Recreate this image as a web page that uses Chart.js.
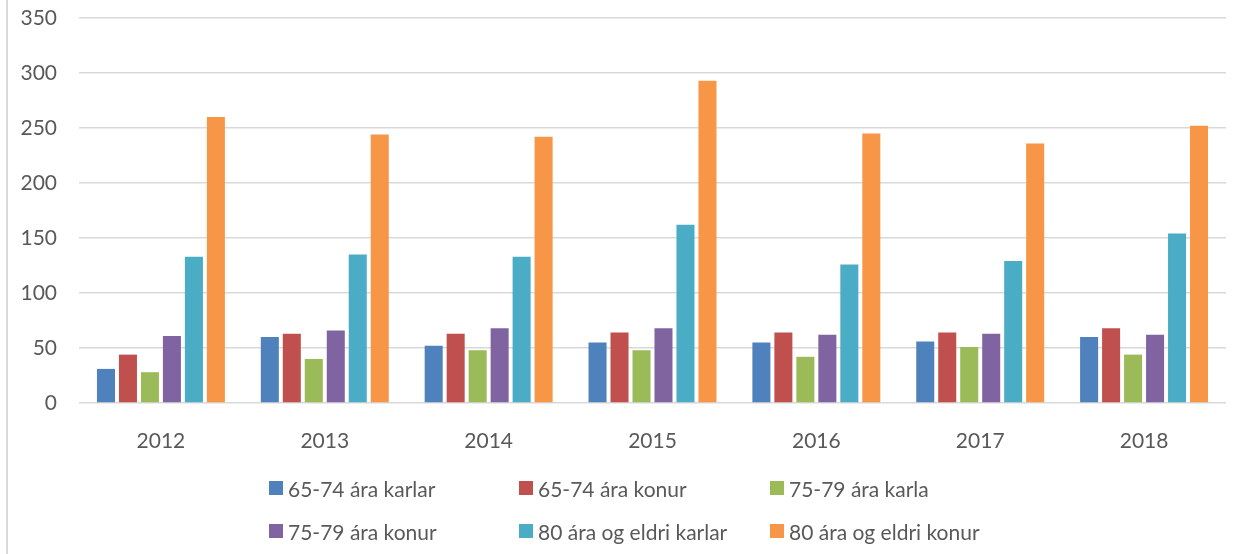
<!DOCTYPE html>
<html lang="is">
<head>
<meta charset="utf-8">
<title>Fjöldi eftir aldri og kyni 2012–2018</title>
<script src="https://cdn.jsdelivr.net/npm/chart.js@4.4.1/dist/chart.umd.min.js"></script>
<style>
  html, body { margin: 0; padding: 0; background: #fff; }
  .wrap { position: relative; width: 1239px; height: 554px; overflow: hidden; }
  .wrap canvas { position: absolute; left: 0; top: 0; }
  .frame-left { position: absolute; left: 6px; top: 0; width: 2px; height: 554px; background: #d9d9d9; }
  .legend { position: absolute; left: 0; top: 0; width: 1239px; height: 554px; pointer-events: none;
            font-family: Lato, 'Open Sans', sans-serif; font-size: 21px; color: #595959; }
  .legend-item { position: absolute; display: flex; align-items: center; white-space: nowrap; }
  .legend-box { width: 14px; height: 14px; margin-right: 5px; }
</style>
</head>
<body>
<div class="wrap">
  <div class="frame-left"></div>
  <canvas id="chart" width="1239" height="554"></canvas>
  <div class="legend" id="legend"></div>
</div>
<script>
const years = ['2012', '2013', '2014', '2015', '2016', '2017', '2018'];

const karlar6574  = [31, 60, 52, 55, 55, 56, 60];
const konur6574   = [44, 63, 63, 64, 64, 64, 68];
const karla7579   = [28, 40, 48, 48, 42, 51, 44];
const konur7579   = [61, 66, 68, 68, 62, 63, 62];
const karlar80    = [133, 135, 133, 162, 126, 129, 154];
const konur80     = [260, 244, 242, 293, 245, 236, 252];

const seriesNames  = ['65-74 ára karlar', '65-74 ára konur', '75-79 ára karla',
                      '75-79 ára konur', '80 ára og eldri karlar', '80 ára og eldri konur'];
const seriesData   = [karlar6574, konur6574, karla7579, konur7579, karlar80, konur80];
const seriesColors = ['#4f81bd', '#c0504d', '#9bbb59', '#8064a2', '#4bacc6', '#f79646'];

const yTicks = [0, 50, 100, 150, 200, 250, 300, 350];

const TEXT = '#595959';
const FONT = { family: "Lato, 'Open Sans', sans-serif", size: 21 };

const chart = new Chart(document.getElementById('chart'), {
  type: 'bar',
  data: {
    labels: years,
    datasets: seriesNames.map((name, i) => ({
      label: name,
      data: seriesData[i],
      backgroundColor: seriesColors[i],
      borderWidth: 0,
      categoryPercentage: 0.805,
      barPercentage: 0.82,
    })),
  },
  options: {
    responsive: false,
    animation: false,
    layout: { padding: { left: 7, top: 18, right: 13, bottom: 0 } },
    plugins: { legend: { display: false }, tooltip: { enabled: false } },
    scales: {
      x: {
        grid: { display: false, drawTicks: false },
        border: { display: false },
        ticks: { color: TEXT, font: FONT, padding: 26 },
        afterFit: s => { s.height = 151; s.paddingLeft = 0; s.paddingRight = 0; },
      },
      y: {
        min: 0, max: 350,
        afterBuildTicks: s => { s.ticks = yTicks.map(v => ({ value: v })); },
        grid: { color: '#d9d9d9', lineWidth: 1.5, drawTicks: false },
        border: { display: false },
        ticks: { color: TEXT, font: FONT, padding: 22 },
        afterFit: s => { s.width = 72; s.paddingTop = 0; s.paddingBottom = 0; },
      },
    },
  },
});

// legend laid out in three columns like the original
const legendEl = document.getElementById('legend');
const colX = [269, 519, 770];
const rowY = [488, 531];
chart.data.datasets.forEach((ds, i) => {
  const item = document.createElement('div');
  item.className = 'legend-item';
  item.style.left = colX[i % 3] + 'px';
  item.style.top = (rowY[Math.floor(i / 3)] - 13) + 'px';
  item.style.height = '26px';
  item.innerHTML = `<span class="legend-box" style="background:${ds.backgroundColor}"></span><span>${ds.label}</span>`;
  legendEl.appendChild(item);
});
</script>
</body>
</html>
